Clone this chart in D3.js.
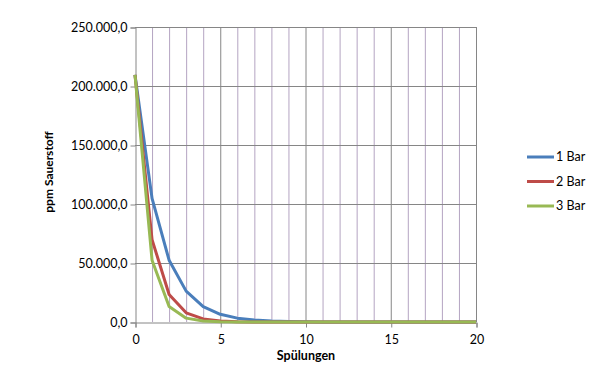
<!DOCTYPE html>
<html><head><meta charset="utf-8">
<script src="https://cdn.jsdelivr.net/npm/d3@7"></script>
<style>body{margin:0;background:#fff}svg{display:block}</style>
</head><body>
<svg id="c" width="595" height="365"></svg>
<script>
const spuelungen = d3.range(0, 21);
const seriesNames = ["1 Bar", "2 Bar", "3 Bar"];
const bar1 = [209460,104730,52365,26183,13091,6546,3273,1636,818,409,205,102,51,26,13,6,3,2,1,0,0];
const bar2 = [209460,69820,23273,7758,2586,862,287,96,32,11,4,1,0,0,0,0,0,0,0,0,0];
const bar3 = [209460,52365,13091,3273,818,205,51,13,3,1,0,0,0,0,0,0,0,0,0,0,0];
const yTicks = [0,50000,100000,150000,200000,250000];
const xTicks = [0,5,10,15,20];
const colors = ["#4a7ebb","#be4b48","#98b954"];

const svg = d3.select("#c");
const font = "Lato, 'Open Sans', sans-serif";
const x = d3.scaleLinear().domain([0,20]).range([135,476]);
const y = d3.scaleLinear().domain([0,250000]).range([322,27]);
const fmt = v => v === 0 ? "0,0" : d3.format(",")(v).replace(/,/g,".") + ",0";

// vertical minor gridlines
svg.append("g").selectAll("line").data(spuelungen.filter(d => d % 5 !== 0)).join("line")
  .attr("x1", d => x(d)+0.5).attr("x2", d => x(d)+0.5)
  .attr("y1", y(250000)).attr("y2", y(0))
  .attr("stroke", "#b4a4c2").attr("stroke-width", 1);
// vertical major gridlines
svg.append("g").selectAll("line").data(xTicks.filter(d => d>0)).join("line")
  .attr("x1", d => x(d)+0.5).attr("x2", d => x(d)+0.5)
  .attr("y1", y(250000)).attr("y2", y(0))
  .attr("stroke", "#868686").attr("stroke-width", 1);
// horizontal gridlines
svg.append("g").selectAll("line").data(yTicks.filter(d => d>0)).join("line")
  .attr("x1", x(0)).attr("x2", x(20)+1)
  .attr("y1", d => Math.round(y(d))+0.5).attr("y2", d => Math.round(y(d))+0.5)
  .attr("stroke", "#868686").attr("stroke-width", 1);

// axes
const yAxis = d3.axisLeft(y).tickValues(yTicks).tickFormat(fmt).tickSize(5).tickPadding(3);
const gy = svg.append("g").attr("transform", `translate(${x(0)+0.5},0.5)`).call(yAxis);
const xAxis = d3.axisBottom(x).tickValues(xTicks).tickSize(5).tickPadding(8);
const gx = svg.append("g").attr("transform", `translate(0.5,${Math.round(y(0))+0.5})`).call(xAxis);
[gy,gx].forEach(g => {
  g.select(".domain").attr("stroke", "#868686");
  g.selectAll(".tick line").attr("stroke", "#868686");
  g.selectAll("text").attr("fill", "#000").style("font-family", font).style("font-size", "12.5px");
});

// lines
const data = [bar1, bar2, bar3];
const line = d3.line().x((d,i) => x(spuelungen[i])).y(d => y(d));
svg.append("g").selectAll("path").data(data).join("path")
  .attr("d", line).attr("fill", "none")
  .attr("stroke", (d,i) => colors[i]).attr("stroke-width", 3)
  .attr("stroke-linejoin", "round");

// axis titles
svg.append("text").attr("x", 306).attr("y", 360).attr("text-anchor", "middle")
  .style("font-family", font).style("font-size", "12.5px").style("font-weight", "bold").text("Spülungen");
svg.append("text").attr("transform", "translate(53,172) rotate(-90)").attr("text-anchor", "middle")
  .style("font-family", font).style("font-size", "12px").style("font-weight", "bold").text("ppm Sauerstoff");

// legend
const lg = svg.append("g").selectAll("g").data(seriesNames).join("g")
  .attr("transform", (d,i) => `translate(527,${157 + i*24.5})`);
lg.append("line").attr("x1", 0).attr("x2", 27).attr("y1", 0).attr("y2", 0)
  .attr("stroke", (d,i) => colors[i]).attr("stroke-width", 3);
lg.append("text").attr("x", 29).attr("y", 4).text(d => d)
  .style("font-family", font).style("font-size", "12.5px");
</script>
</body></html>
